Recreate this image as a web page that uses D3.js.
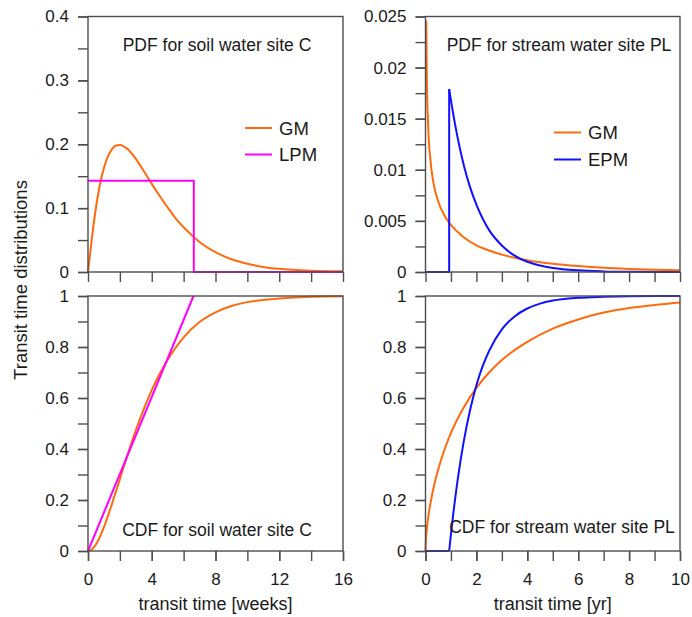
<!DOCTYPE html>
<html>
<head>
<meta charset="utf-8">
<script src="https://cdn.jsdelivr.net/npm/d3@7"></script>
<style>
  body { margin: 0; background: #fff; }
  text { font-family: "Liberation Sans", Arial, sans-serif; fill: #1a1a1a; }
</style>
</head>
<body>
<svg id="chart" width="692" height="617"></svg>
<script>
// ---- soil water site C (weeks) ----
var soilGmPdfX = [0, 0.25, 0.5, 0.75, 1, 1.25, 1.5, 1.75, 2, 2.5, 3, 3.5, 4, 4.5, 5, 5.5, 6, 6.5, 7, 8, 9, 10, 11, 12, 14, 16];
var soilGmPdfY = [0, 0.054, 0.101, 0.137, 0.163, 0.181, 0.192, 0.198, 0.199, 0.192, 0.177, 0.158, 0.138, 0.119, 0.101, 0.084, 0.070, 0.058, 0.047, 0.031, 0.020, 0.013, 0.008, 0.005, 0.002, 0.001];
var soilLpmPdfX = [0, 6.64, 6.64, 16];
var soilLpmPdfY = [0.143, 0.143, 0, 0];
var soilGmCdfX = [0, 0.25, 0.5, 1, 1.5, 2, 2.5, 3, 3.5, 4, 4.5, 5, 5.5, 6, 7, 8, 9, 10, 12, 14, 16];
var soilGmCdfY = [0, 0.007, 0.026, 0.094, 0.184, 0.282, 0.381, 0.473, 0.556, 0.631, 0.695, 0.75, 0.797, 0.838, 0.898, 0.936, 0.961, 0.976, 0.99, 0.997, 0.999];
var soilLpmCdfX = [0, 6.62];
var soilLpmCdfY = [0, 1];

// ---- stream water site PL (years) ----
var streamGmPdfX = [0.03, 0.05, 0.1, 0.2, 0.3, 0.5, 0.75, 1, 1.5, 2, 2.5, 3, 4, 5, 6, 7, 8, 9, 10];
var streamGmPdfY = [0.0246, 0.0195, 0.0146, 0.0108, 0.0089, 0.0069, 0.0055, 0.0046, 0.0034, 0.0026, 0.0021, 0.0017, 0.00116, 0.00081, 0.00058, 0.00041, 0.0003, 0.00022, 0.00017];
var streamEpmStepX = [0, 0.93, 0.93];
var streamEpmStepY = [0, 0, 0.0179];
var streamEpmPdfX = [0.93, 1, 1.25, 1.5, 1.75, 2, 2.5, 3, 3.5, 4, 4.5, 5, 6, 7, 8, 10];
var streamEpmPdfY = [0.0179, 0.0168, 0.0133, 0.0105, 0.0083, 0.0066, 0.0041, 0.0026, 0.0016, 0.0010, 0.00064, 0.0004, 0.00016, 0.00006, 0.00002, 0];
var streamGmCdfX = [0, 0.02, 0.05, 0.1, 0.2, 0.35, 0.5, 0.75, 1, 1.5, 2, 2.5, 3, 4, 5, 6, 7, 8, 9, 10];
var streamGmCdfY = [0, 0.049, 0.084, 0.127, 0.19, 0.263, 0.32, 0.399, 0.463, 0.563, 0.64, 0.70, 0.749, 0.82, 0.872, 0.908, 0.935, 0.953, 0.965, 0.975];
var streamEpmCdfStepX = [0, 0.93];
var streamEpmCdfStepY = [0, 0];
var streamEpmCdfX = [0.93, 1, 1.1, 1.25, 1.5, 1.75, 2, 2.25, 2.5, 3, 3.5, 4, 4.5, 5, 6, 7, 8, 10];
var streamEpmCdfY = [0, 0.066, 0.153, 0.269, 0.428, 0.552, 0.65, 0.726, 0.785, 0.869, 0.92, 0.951, 0.97, 0.982, 0.993, 0.997, 0.999, 1.0];

// ---- ticks ----
var weekMinorTicks = [0, 2, 4, 6, 8, 10, 12, 14, 16];
var weekLabelTicks = [0, 4, 8, 12, 16];
var yearMinorTicks = [0, 1, 2, 3, 4, 5, 6, 7, 8, 9, 10];
var yearLabelTicks = [0, 2, 4, 6, 8, 10];
var soilPdfMinorTicks = [0, 0.05, 0.1, 0.15, 0.2, 0.25, 0.3, 0.35, 0.4];
var soilPdfLabelTicks = [0, 0.1, 0.2, 0.3, 0.4];
var streamPdfMinorTicks = [0, 0.0025, 0.005, 0.0075, 0.01, 0.0125, 0.015, 0.0175, 0.02, 0.0225, 0.025];
var streamPdfLabelTicks = [0, 0.005, 0.01, 0.015, 0.02, 0.025];
var cdfMinorTicks = [0, 0.1, 0.2, 0.3, 0.4, 0.5, 0.6, 0.7, 0.8, 0.9, 1];
var cdfLabelTicks = [0, 0.2, 0.4, 0.6, 0.8, 1];

var ORANGE = '#ff6a0d', MAGENTA = '#ff00ff', BLUE = '#1010ff';
var AXIS = '#4d4d4d';

var svg = d3.select('#chart');
var fmt = d3.format('~g');

function pts(xs, ys) {
  return xs.map(function (x, i) { return [x, ys[i]]; });
}

function drawPanel(o) {
  var x = d3.scaleLinear().domain(o.xDomain).range([o.left, o.right]);
  var y = d3.scaleLinear().domain(o.yDomain).range([o.bottom, o.top]);
  var g = svg.append('g');

  // ticks (minor, no labels) then labelled ones
  var yMinor = d3.axisLeft(y).tickValues(o.yMinor).tickFormat('').tickSize(10).tickSizeOuter(0);
  var yMajor = d3.axisLeft(y).tickValues(o.yLabels).tickFormat(fmt).tickSize(10).tickSizeOuter(0).tickPadding(9);
  var xMinor = d3.axisBottom(x).tickValues(o.xMinor).tickFormat('').tickSize(10).tickSizeOuter(0);
  g.append('g').attr('transform', 'translate(' + o.left + ',0)').call(yMinor);
  g.append('g').attr('transform', 'translate(' + o.left + ',0)').call(yMajor);
  g.append('g').attr('transform', 'translate(0,' + o.bottom + ')').call(xMinor);
  if (o.xLabels) {
    var xMajor = d3.axisBottom(x).tickValues(o.xLabels).tickFormat(fmt).tickSize(10).tickSizeOuter(0).tickPadding(12);
    g.append('g').attr('transform', 'translate(0,' + o.bottom + ')').call(xMajor);
  }
  g.selectAll('.domain').remove();
  g.selectAll('.tick line').attr('stroke', AXIS).attr('stroke-width', 1.4);
  g.selectAll('.tick text').attr('font-size', 17).attr('font-family', '"Liberation Sans", Arial, sans-serif').attr('fill', '#1a1a1a');

  // curves
  o.series.forEach(function (s) {
    var line = d3.line()
      .x(function (d) { return x(d[0]); })
      .y(function (d) { return y(d[1]); })
      .curve(s.smooth ? d3.curveMonotoneX : d3.curveLinear);
    g.append('path')
      .attr('d', line(pts(s.x, s.y)))
      .attr('fill', 'none')
      .attr('stroke', s.color)
      .attr('stroke-width', 2)
      .attr('stroke-linejoin', 'round');
  });

  // frame
  g.append('rect')
    .attr('x', o.left).attr('y', o.top)
    .attr('width', o.right - o.left).attr('height', o.bottom - o.top)
    .attr('fill', 'none').attr('stroke', AXIS).attr('stroke-width', 1.4);

  // annotation
  g.append('text')
    .attr('x', o.note.x).attr('y', o.note.y)
    .attr('text-anchor', 'middle')
    .attr('font-size', 17.5)
    .text(o.note.text);

  // legend
  if (o.legend) {
    o.legend.items.forEach(function (it, i) {
      var ly = o.legend.y + i * o.legend.gap;
      g.append('line')
        .attr('x1', o.legend.x).attr('x2', o.legend.x + 27)
        .attr('y1', ly).attr('y2', ly)
        .attr('stroke', it.color).attr('stroke-width', 2);
      g.append('text')
        .attr('x', o.legend.x + 34).attr('y', ly + 6.5)
        .attr('font-size', 18.5)
        .text(it.label);
    });
  }
}

var L0 = 88, L1 = 343, R0 = 425.5, R1 = 680;
var T0 = 16.5, T1 = 272, B0 = 296, B1 = 551;

drawPanel({
  left: L0, right: L1, top: T0, bottom: T1,
  xDomain: [0, 16], yDomain: [0, 0.4],
  xMinor: weekMinorTicks, yMinor: soilPdfMinorTicks, yLabels: soilPdfLabelTicks,
  series: [
    { x: soilGmPdfX, y: soilGmPdfY, color: ORANGE, smooth: true },
    { x: soilLpmPdfX, y: soilLpmPdfY, color: MAGENTA, smooth: false }
  ],
  note: { text: 'PDF for soil water site C', x: 217, y: 51 },
  legend: { x: 245, y: 128, gap: 26.5, items: [{ label: 'GM', color: ORANGE }, { label: 'LPM', color: MAGENTA }] }
});

drawPanel({
  left: R0, right: R1, top: T0, bottom: T1,
  xDomain: [0, 10], yDomain: [0, 0.025],
  xMinor: yearMinorTicks, yMinor: streamPdfMinorTicks, yLabels: streamPdfLabelTicks,
  series: [
    { x: streamGmPdfX, y: streamGmPdfY, color: ORANGE, smooth: true },
    { x: streamEpmStepX, y: streamEpmStepY, color: BLUE, smooth: false },
    { x: streamEpmPdfX, y: streamEpmPdfY, color: BLUE, smooth: true }
  ],
  note: { text: 'PDF for stream water site PL', x: 559, y: 51 },
  legend: { x: 554, y: 132.5, gap: 27, items: [{ label: 'GM', color: ORANGE }, { label: 'EPM', color: BLUE }] }
});

drawPanel({
  left: L0, right: L1, top: B0, bottom: B1,
  xDomain: [0, 16], yDomain: [0, 1],
  xMinor: weekMinorTicks, xLabels: weekLabelTicks, yMinor: cdfMinorTicks, yLabels: cdfLabelTicks,
  series: [
    { x: soilGmCdfX, y: soilGmCdfY, color: ORANGE, smooth: true },
    { x: soilLpmCdfX, y: soilLpmCdfY, color: MAGENTA, smooth: false }
  ],
  note: { text: 'CDF for soil water site C', x: 217, y: 535.5 }
});

drawPanel({
  left: R0, right: R1, top: B0, bottom: B1,
  xDomain: [0, 10], yDomain: [0, 1],
  xMinor: yearMinorTicks, xLabels: yearLabelTicks, yMinor: cdfMinorTicks, yLabels: cdfLabelTicks,
  series: [
    { x: streamGmCdfX, y: streamGmCdfY, color: ORANGE, smooth: true },
    { x: streamEpmCdfStepX, y: streamEpmCdfStepY, color: BLUE, smooth: false },
    { x: streamEpmCdfX, y: streamEpmCdfY, color: BLUE, smooth: true }
  ],
  note: { text: 'CDF for stream water site PL', x: 562, y: 533 }
});

// axis titles
svg.append('text')
  .attr('x', (L0 + L1) / 2).attr('y', 610)
  .attr('text-anchor', 'middle').attr('font-size', 18)
  .text('transit time [weeks]');
svg.append('text')
  .attr('x', (R0 + R1) / 2).attr('y', 610)
  .attr('text-anchor', 'middle').attr('font-size', 18)
  .text('transit time [yr]');
svg.append('text')
  .attr('transform', 'translate(26.5,280) rotate(-90)')
  .attr('text-anchor', 'middle').attr('font-size', 18.5)
  .text('Transit time distributions');
</script>
</body>
</html>
